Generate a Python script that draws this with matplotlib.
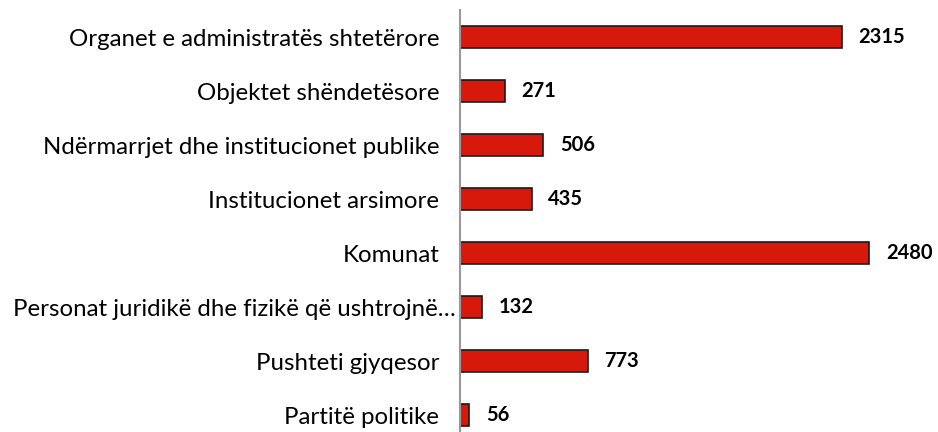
import matplotlib
matplotlib.use("Agg")
import matplotlib.pyplot as plt
import matplotlib.transforms as mtransforms

categories = [
    "Organet e administratës shtetërore",
    "Objektet shëndetësore",
    "Ndërmarrjet dhe institucionet publike",
    "Institucionet arsimore",
    "Komunat",
    "Personat juridikë dhe fizikë që ushtrojnë…",
    "Pushteti gjyqesor",
    "Partitë politike",
]
values = [2315, 271, 506, 435, 2480, 132, 773, 56]

plt.rcParams['font.family'] = ['Lato', 'DejaVu Sans']

fig = plt.figure(figsize=(9.38, 4.32), dpi=100)
ax = fig.add_axes([460/938, -10/432, 470/938, 432/432])

y = list(range(len(categories)))
ax.barh(y, values, height=0.41, color='#D7190B', edgecolor='#1a1a1a', linewidth=1.2)
ax.set_ylim(len(categories) - 0.5, -0.5)
ax.set_xlim(0, 470 / 0.165)
ax.set_yticks(y)
labels = ax.set_yticklabels(categories, fontsize=17.3)
ax.tick_params(axis='y', length=0, pad=15)
ax.set_xticks([])
for s in ['top', 'right', 'bottom']:
    ax.spines[s].set_visible(False)
ax.spines['left'].set_color('#999999')
ax.spines['left'].set_linewidth(1.5)

# the truncated label sits closer to the axis, as in the source
for lab in labels:
    if lab.get_text().endswith("…"):
        lab.set_transform(lab.get_transform() +
                          mtransforms.ScaledTranslation(17/100, 0, fig.dpi_scale_trans))

for yi, v in zip(y, values):
    ax.annotate(f"{v}", xy=(v, yi), xytext=(12, 0), textcoords='offset points',
                ha='left', va='center', fontsize=14.5, fontweight='bold', color='black')

fig.savefig("out.png", dpi=100)
